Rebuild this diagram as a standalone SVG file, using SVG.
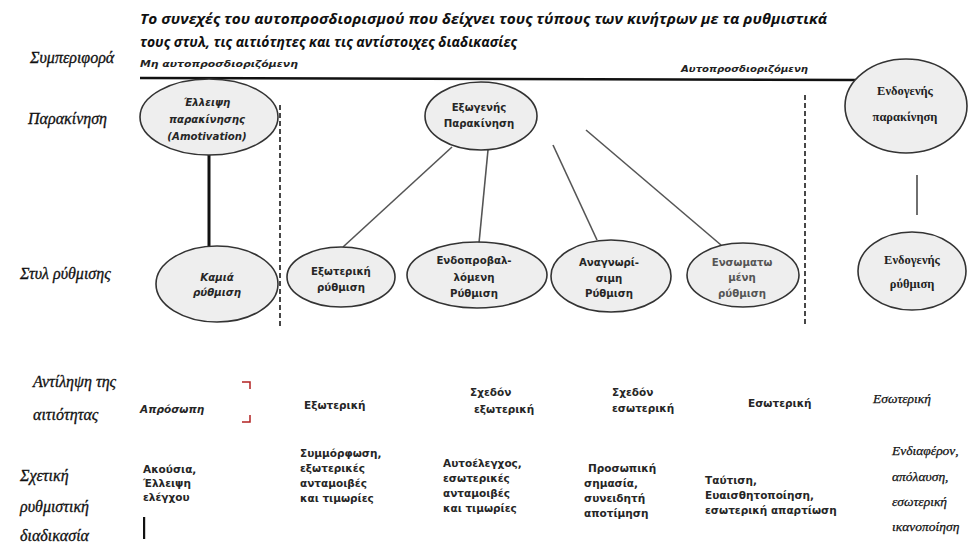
<svg xmlns="http://www.w3.org/2000/svg" width="968" height="546" viewBox="0 0 968 546">
<style>
.bg{fill:#ffffff}
.ell{fill:#eeeeee;stroke:#333333;stroke-width:1.6}
.nt{font-family:"DejaVu Sans","Liberation Sans",sans-serif;font-size:10.2px;font-weight:bold;fill:#262626;text-anchor:middle}
.nti{font-style:italic}
.ntl{fill:#555555}
.ns{font-family:"Liberation Serif","DejaVu Serif",serif;font-size:12.5px;font-weight:bold;fill:#222222;text-anchor:middle}
.lab{font-family:"Liberation Serif","DejaVu Serif",serif;font-size:16px;font-style:italic;fill:#111111;stroke:#111111;stroke-width:0.3}
.title{font-family:"Open Sans","Liberation Sans",sans-serif;font-size:15px;font-weight:bold;font-style:italic;fill:#111111}
.sub{font-family:"DejaVu Sans","Liberation Sans",sans-serif;font-size:8.5px;font-weight:bold;font-style:italic;fill:#222222}
.bt{font-family:"DejaVu Sans","Liberation Sans",sans-serif;font-size:10.5px;font-weight:bold;fill:#262626}
.bs{font-family:"Liberation Serif","DejaVu Serif",serif;font-size:13.5px;font-style:italic;fill:#111111;stroke:#111111;stroke-width:0.25}
.con{stroke:#555555;stroke-width:1.6;fill:none}
.dash{stroke:#333333;stroke-width:1.8;stroke-dasharray:5 3;fill:none}
</style>
<rect class="bg" x="0" y="0" width="968" height="546"/>

<g id="title">
<text class="title" x="140" y="24" textLength="687" lengthAdjust="spacingAndGlyphs">Το συνεχές του αυτοπροσδιορισμού που δείχνει  τους τύπους των κινήτρων με τα ρυθμιστικά</text>
<text class="title" x="140" y="47" textLength="377" lengthAdjust="spacingAndGlyphs">τους στυλ, τις αιτιότητες και τις αντίστοιχες διαδικασίες</text>
<text class="sub" x="140" y="67" textLength="158" lengthAdjust="spacingAndGlyphs">Μη αυτοπροσδιοριζόμενη</text>
<text class="sub" x="681" y="72" textLength="127" lengthAdjust="spacingAndGlyphs">Αυτοπροσδιοριζόμενη</text>
</g>

<g id="row-labels">
<text class="lab" x="30" y="63">Συμπεριφορά</text>
<text class="lab" x="28" y="124">Παρακίνηση</text>
<text class="lab" x="20" y="279">Στυλ ρύθμισης</text>
<text class="lab" x="33" y="387">Αντίληψη της</text>
<text class="lab" x="33" y="420">αιτιότητας</text>
<text class="lab" x="20" y="481">Σχετική</text>
<text class="lab" x="20" y="512">ρυθμιστική</text>
<text class="lab" x="20" y="541">διαδικασία</text>
</g>

<g id="connectors">
<line x1="140" y1="78" x2="858" y2="80" stroke="#111111" stroke-width="2.6"/>
<line x1="209" y1="155" x2="209" y2="246" stroke="#111111" stroke-width="3"/>
<line class="dash" x1="280" y1="105" x2="280" y2="327"/>
<line class="dash" x1="805" y1="95" x2="805" y2="327"/>
<line class="con" x1="452" y1="147" x2="343" y2="247"/>
<line class="con" x1="488" y1="150" x2="479" y2="243"/>
<line class="con" x1="553" y1="145" x2="597" y2="240"/>
<line class="con" x1="586" y1="130" x2="721" y2="245"/>
<line x1="917" y1="175" x2="917" y2="215" stroke="#333333" stroke-width="1.4"/>
</g>

<g id="n-amotivation">
<ellipse class="ell" cx="209" cy="117" rx="69" ry="38"/>
<text class="nt nti" x="207" y="106">Έλλειψη</text>
<text class="nt nti" x="207" y="123">παρακίνησης</text>
<text class="nt nti" x="207" y="140">(Amotivation)</text>
</g>

<g id="n-no-regulation">
<ellipse class="ell" cx="217" cy="284" rx="61" ry="38"/>
<text class="nt nti" x="217" y="281">Καμιά</text>
<text class="nt nti" x="217" y="296">ρύθμιση</text>
</g>

<g id="n-extrinsic-motivation">
<ellipse class="ell" cx="481" cy="116" rx="56" ry="34"/>
<text class="nt" x="479" y="111">Εξωγενής</text>
<text class="nt" x="479" y="127">Παρακίνηση</text>
</g>

<g id="n-external">
<ellipse class="ell" cx="341" cy="277" rx="54" ry="30"/>
<text class="nt" x="341" y="275">Εξωτερική</text>
<text class="nt" x="341" y="291">ρύθμιση</text>
</g>

<g id="n-introjected">
<ellipse class="ell" cx="477" cy="275" rx="70" ry="33"/>
<text class="nt" x="474" y="264">Ενδοπροβαλ-</text>
<text class="nt" x="474" y="281">λόμενη</text>
<text class="nt" x="474" y="297">Ρύθμιση</text>
</g>

<g id="n-identified">
<ellipse class="ell" cx="611" cy="276" rx="60" ry="36"/>
<text class="nt" x="609" y="266">Αναγνωρί-</text>
<text class="nt" x="609" y="282">σιμη</text>
<text class="nt" x="609" y="297">Ρύθμιση</text>
</g>

<g id="n-integrated">
<ellipse class="ell" cx="743" cy="275" rx="56" ry="32"/>
<text class="nt ntl" x="742" y="266">Ενσωματω</text>
<text class="nt ntl" x="742" y="281">μένη</text>
<text class="nt ntl" x="742" y="297">ρύθμιση</text>
</g>

<g id="n-intrinsic-motivation">
<ellipse class="ell" cx="906" cy="106" rx="61" ry="47"/>
<text class="ns" x="905" y="95">Ενδογενής</text>
<text class="ns" x="905" y="121">παρακίνηση</text>
</g>

<g id="n-intrinsic-regulation">
<ellipse class="ell" cx="912" cy="271" rx="54" ry="39"/>
<text class="ns" x="912" y="264">Ενδογενής</text>
<text class="ns" x="912" y="288">ρύθμιση</text>
</g>

<g id="causality">
<text class="bt" x="140" y="413" font-style="italic">Απρόσωπη</text>
<path d="M242 382 H250 V389 M242 422 H250 V415" stroke="#b22222" stroke-width="1.5" fill="none"/>
<text class="bt" x="304" y="409">Εξωτερική</text>
<text class="bt" x="470" y="396">Σχεδόν</text>
<text class="bt" x="474" y="413">εξωτερική</text>
<text class="bt" x="612" y="396">Σχεδόν</text>
<text class="bt" x="612" y="412">εσωτερική</text>
<text class="bt" x="748" y="407">Εσωτερική</text>
<text class="bs" x="873" y="403">Εσωτερική</text>
</g>

<g id="processes">
<text class="bt" x="143" y="473">Ακούσια,</text>
<text class="bt" x="143" y="487">Έλλειψη</text>
<text class="bt" x="143" y="501">ελέγχου</text>
<text class="bt" x="300" y="457">Συμμόρφωση,</text>
<text class="bt" x="300" y="472">εξωτερικές</text>
<text class="bt" x="300" y="487">ανταμοιβές</text>
<text class="bt" x="300" y="502">και τιμωρίες</text>
<text class="bt" x="443" y="467">Αυτοέλεγχος,</text>
<text class="bt" x="443" y="482">εσωτερικές</text>
<text class="bt" x="443" y="497">ανταμοιβές</text>
<text class="bt" x="443" y="512">και τιμωρίες</text>
<text class="bt" x="588" y="472">Προσωπική</text>
<text class="bt" x="584" y="487">σημασία,</text>
<text class="bt" x="584" y="502">συνειδητή</text>
<text class="bt" x="584" y="517">αποτίμηση</text>
<text class="bt" x="705" y="484">Ταύτιση,</text>
<text class="bt" x="705" y="499">Ευαισθητοποίηση,</text>
<text class="bt" x="705" y="514">εσωτερική απαρτίωση</text>
<text class="bs" x="892" y="455">Ενδιαφέρον,</text>
<text class="bs" x="892" y="481">απόλαυση,</text>
<text class="bs" x="892" y="506">εσωτερική</text>
<text class="bs" x="892" y="531">ικανοποίηση</text>
<rect x="143" y="517" width="2.2" height="22" fill="#111111"/>
</g>
</svg>
